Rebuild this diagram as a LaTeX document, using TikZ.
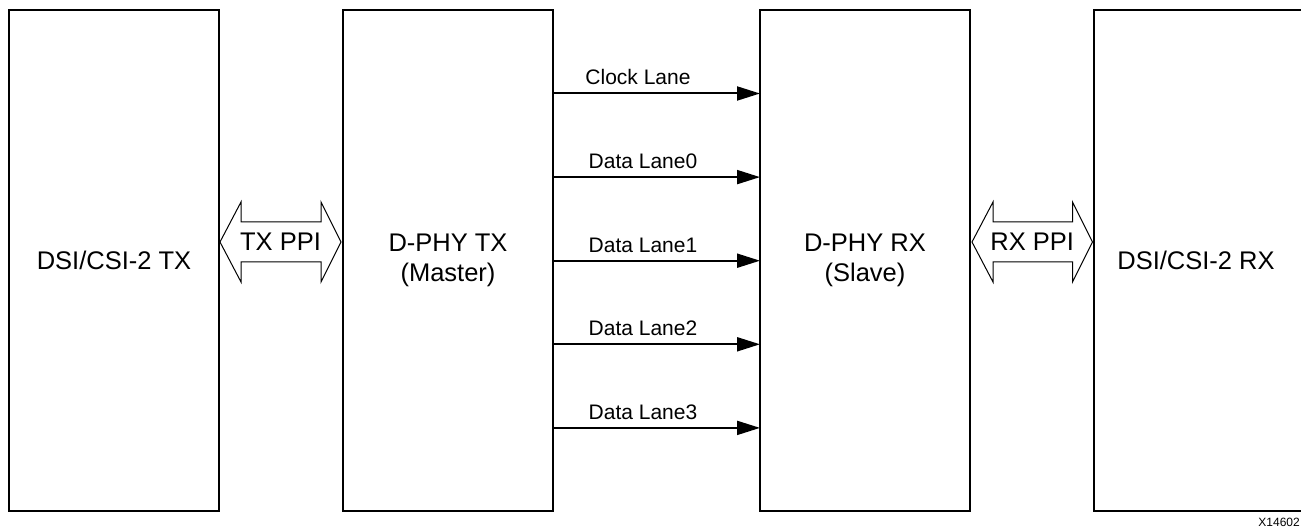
\documentclass[tikz,border=0pt]{standalone}
\usepackage{fontspec}
\setmainfont{Liberation Sans}
\usetikzlibrary{arrows.meta,calc}
\begin{document}
\begin{tikzpicture}[x=1pt,y=-1pt,
  blockbox/.style={draw=black,line width=2.5pt,outer sep=0pt,inner sep=0pt,
    minimum height=501pt,font=\fontsize{25.5}{29.5}\selectfont,align=center},
  lane/.style={draw=black,line width=2pt,-{Triangle[length=23pt,width=14pt]}},
  lanelabel/.style={anchor=base,font=\fontsize{21}{24}\selectfont,inner sep=0pt},
  ppi/.style={draw=black,line width=1pt,line join=miter,fill=white},
  ppilabel/.style={font=\fontsize{25.5}{29.5}\selectfont,inner sep=0pt}]
\useasboundingbox (0,0) rectangle (1301,529);
\clip (0,0) rectangle (1301,529);
% blocks
\node[blockbox,minimum width=210pt] (tx) at (114,260.5) {DSI/CSI-2 TX};
\node[blockbox,minimum width=210pt] (dtx) at (448,260.5) {D-PHY TX\\(Master)};
\node[blockbox,minimum width=210pt] (drx) at (865,260.5) {D-PHY RX\\(Slave)};
\node[blockbox,minimum width=240pt] (rx) at (1214,260.5) {};
\node[font=\fontsize{25.5}{29.5}\selectfont,inner sep=0pt] (rxt) at (1196,260.5) {DSI/CSI-2 RX};
% lanes
\foreach \i/\lab/\lx in {0/Clock Lane/638,1/Data Lane0/643,2/Data Lane1/643,3/Data Lane2/643,4/Data Lane3/643}{
  \coordinate (ly\i) at (0,{93.5+83.6*\i});
  \draw[lane] (dtx.east |- ly\i) -- (drx.west |- ly\i);
  \node[lanelabel] (lab\i) at (\lx,{93.5+83.6*\i-8.5}) {\lab};
}
% PPI double arrows
\coordinate (ppiy) at (0,242);
\coordinate (tpL) at ($(tx.east |- ppiy)+(1,0)$);
\coordinate (tpR) at ($(dtx.west |- ppiy)+(-2,0)$);
\draw[ppi] (tpL) -- ++(21,-40) -- ++(0,20) -- ($(tpR)+(-20,-20)$) -- ++(0,-20) -- (tpR)
  -- ++(-20,40) -- ++(0,-20) -- ($(tpL)+(21,20)$) -- ++(0,20) -- cycle;
\node[ppilabel] (txppi) at ($(tpL)!0.5!(tpR)$) {TX PPI};
\coordinate (rpL) at ($(drx.east |- ppiy)+(2,0)$);
\coordinate (rpR) at ($(rx.west |- ppiy)+(-1.5,0)$);
\draw[ppi] (rpL) -- ++(21,-40) -- ++(0,20) -- ($(rpR)+(-20,-20)$) -- ++(0,-20) -- (rpR)
  -- ++(-20,40) -- ++(0,-20) -- ($(rpL)+(21,20)$) -- ++(0,20) -- cycle;
\node[ppilabel] (rxppi) at ($(rpL)!0.5!(rpR)$) {RX PPI};
% figure id
\node[anchor=base east,font=\fontsize{12}{14}\selectfont,inner sep=0pt] (fid) at (1300,526) {X14602};
\end{tikzpicture}
\end{document}
